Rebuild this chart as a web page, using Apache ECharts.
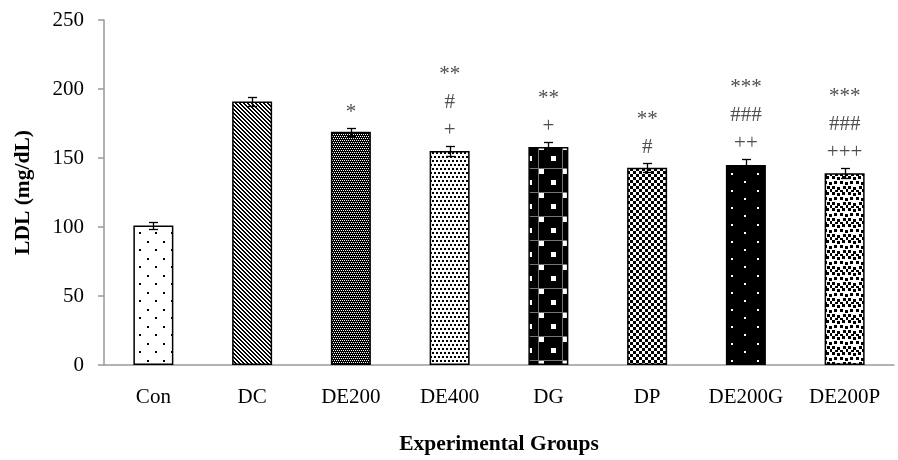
<!DOCTYPE html>
<html>
<head>
<meta charset="utf-8">
<script src="https://cdn.jsdelivr.net/npm/echarts@6/dist/echarts.min.js"></script>
<style>
html,body{margin:0;padding:0;background:#fff;}
#chart{width:898px;height:460px;}
</style>
</head>
<body>
<div id="chart"></div>
<script>
// ---- data ----
const categories = ['Con', 'DC', 'DE200', 'DE400', 'DG', 'DP', 'DE200G', 'DE200P'];
const ldlValues = [101, 191, 169, 155, 158, 143, 145, 139];
const ldlErrors = [2.6, 3, 3, 3.4, 3.6, 3.1, 4.3, 3.8];
const annotations = ['', '', '*', '**\n#\n+', '**\n+', '**\n#', '***\n###\n++', '***\n###\n+++'];
const yMin = 0, yMax = 250, yInterval = 50;

// ---- pattern tiles ----
function tile(w, h, bg, draw) {
  const c = document.createElement('canvas');
  c.width = w; c.height = h;
  const g = c.getContext('2d');
  g.fillStyle = bg; g.fillRect(0, 0, w, h);
  draw(g);
  return { image: c, repeat: 'repeat' };
}
function px(g, color, list) {
  g.fillStyle = color;
  list.forEach(r => g.fillRect(r[0], r[1], r[2] || 1, r[3] || 1));
}
const patterns = [
  // Con: sparse staggered dots
  tile(16, 17, '#fff', g => px(g, '#000', [[3, 3, 2, 2], [11, 11, 2, 2]])),
  // DC: downward diagonal
  tile(4, 4, '#fff', g => px(g, '#000', [[0, 0], [1, 1], [2, 2], [3, 3], [1, 0], [2, 1], [3, 2], [0, 3]])),
  // DE200: dark with white dots
  tile(4, 4, '#000', g => px(g, '#fff', [[0, 0], [2, 0], [1, 2], [3, 2]])),
  // DE400: dense staggered dots on white
  tile(8, 8, '#fff', g => px(g, '#000', [[0, 0, 2, 2], [4, 0, 2, 2], [2, 4, 2, 2], [6, 4, 2, 2]])),
  // DG: black with white squares and grey lines
  tile(24, 24, '#000', g => {
    px(g, '#777', [[0, 0, 24, 1], [10, 0, 1, 24]]);
    px(g, '#fff', [[11, 1, 5, 5], [-1, 12, 5, 5], [23, 12, 5, 5]]);
  }),
  // DP: checkerboard
  tile(6, 6, '#fff', g => px(g, '#000', [[0, 0, 3, 3], [3, 3, 3, 3]])),
  // DE200G: black with white dots
  tile(26, 17, '#000', g => px(g, '#fff', [[3, 3, 2, 2], [16, 11, 2, 2]])),
  // DE200P: confetti squares
  tile(16, 16, '#fff', g => px(g, '#000', [
    [0, 0, 3, 3], [5, 1, 3, 3], [10, 0, 3, 3], [2, 5, 3, 3], [8, 5, 3, 3], [13, 6, 3, 3],
    [0, 10, 3, 3], [5, 11, 3, 3], [11, 10, 3, 3], [3, 14, 3, 2], [8, 14, 3, 2], [14, 13, 2, 3]
  ]))
];

const serif = 'Liberation Serif, Times New Roman, serif';
const chart = echarts.init(document.getElementById('chart'));

chart.setOption({
  animation: false,
  backgroundColor: '#fff',
  grid: { left: 104, right: 4, top: 20, bottom: 90 },
  xAxis: {
    type: 'category',
    data: categories,
    name: 'Experimental Groups',
    nameLocation: 'middle',
    nameGap: 68,
    nameTextStyle: { fontFamily: serif, fontWeight: 'bold', fontSize: 21.5, color: '#000' },
    axisLine: { lineStyle: { color: '#9a9a9a', width: 1.5 } },
    axisTick: { show: false },
    axisLabel: { fontFamily: serif, fontSize: 21, color: '#000', margin: 22 }
  },
  yAxis: {
    type: 'value',
    min: yMin, max: yMax, interval: yInterval,
    name: 'LDL (mg/dL)',
    nameLocation: 'middle',
    nameGap: 70,
    nameTextStyle: { fontFamily: serif, fontWeight: 'bold', fontSize: 21.5, color: '#000' },
    axisLine: { show: true, lineStyle: { color: '#9a9a9a', width: 1.5 } },
    axisTick: { show: true, length: 6, lineStyle: { color: '#9a9a9a', width: 1.5 } },
    splitLine: { show: false },
    axisLabel: { fontFamily: serif, fontSize: 21, color: '#000', margin: 20 }
  },
  series: [
    {
      type: 'bar',
      barWidth: 40,
      data: ldlValues.map((v, i) => ({ value: v, itemStyle: { color: patterns[i] } })),
      itemStyle: { borderColor: '#000', borderWidth: 1.5 }
    },
    {
      type: 'custom',
      z: 5,
      data: ldlValues.map((v, i) => [i, v, ldlErrors[i]]),
      renderItem: function (params, api) {
        const i = api.value(0), v = api.value(1), e = api.value(2);
        const t = api.coord([i, v + e]);
        const b = api.coord([i, v - e]);
        const x = Math.round(t[0]) + 0.5;
        const yt = Math.round(t[1]) + 0.5, yb = Math.round(b[1]) + 0.5;
        const hw = 4.5;
        const st = { stroke: '#000', lineWidth: 1.3 };
        return {
          type: 'group',
          children: [
            { type: 'line', shape: { x1: x, y1: yt, x2: x, y2: yb }, style: st },
            { type: 'line', shape: { x1: x - hw, y1: yt, x2: x + hw, y2: yt }, style: st },
            { type: 'line', shape: { x1: x - hw, y1: yb, x2: x + hw, y2: yb }, style: st }
          ]
        };
      }
    },
    {
      type: 'scatter',
      z: 6,
      symbolSize: 1,
      itemStyle: { color: 'rgba(0,0,0,0)' },
      data: ldlValues.map((v, i) => [i, v + ldlErrors[i]]),
      label: {
        show: true,
        position: 'top',
        distance: 1,
        formatter: p => annotations[p.dataIndex],
        fontFamily: serif,
        fontSize: 21,
        lineHeight: 28,
        color: '#222'
      }
    }
  ]
});
</script>
</body>
</html>
